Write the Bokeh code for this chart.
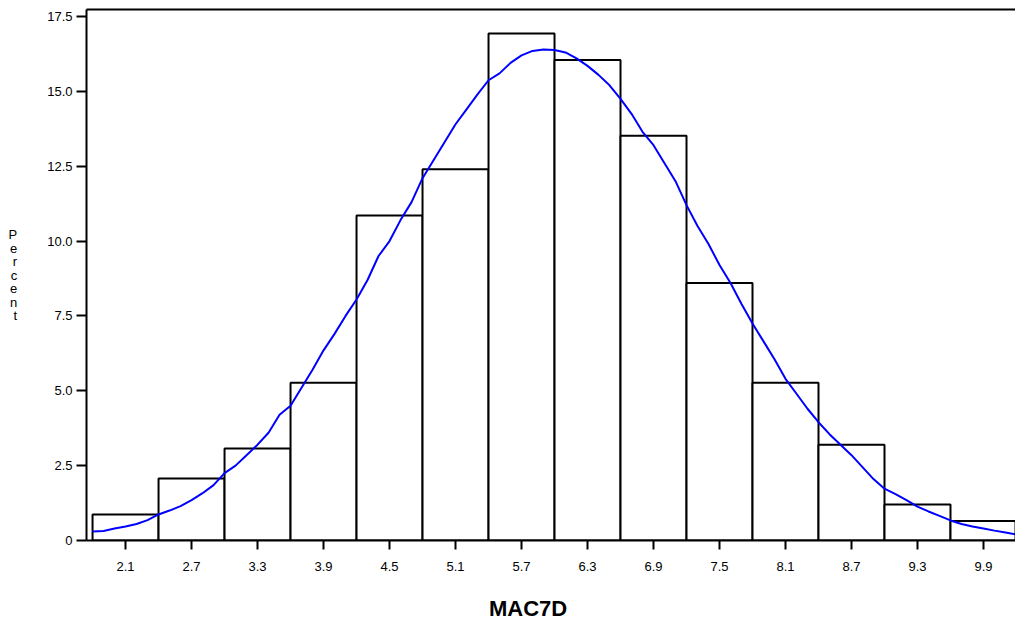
from bokeh.plotting import figure
from bokeh.models import LinearAxis, FixedTicker, Range1d
from bokeh.embed import file_html
from bokeh.resources import INLINE

# ---- data ----
bin_centers = [2.1, 2.7, 3.3, 3.9, 4.5, 5.1, 5.7, 6.3, 6.9, 7.5, 8.1, 8.7, 9.3, 9.9]
bin_percent = [0.87, 2.07, 3.07, 5.27, 10.85, 12.4, 16.93, 16.05, 13.52, 8.6, 5.27, 3.2, 1.2, 0.65]
bin_width = 0.6

curve_x = [1.8, 1.9, 2.0, 2.1, 2.2, 2.3, 2.4, 2.5, 2.6, 2.7, 2.8, 2.9, 3.0, 3.1, 3.2,
           3.3, 3.4, 3.5, 3.6, 3.7, 3.8, 3.9, 4.0, 4.1, 4.2, 4.3, 4.4, 4.5, 4.6, 4.7,
           4.8, 4.9, 5.0, 5.1, 5.2, 5.3, 5.4, 5.5, 5.6, 5.7, 5.8, 5.9, 6.0, 6.1, 6.2,
           6.3, 6.4, 6.5, 6.6, 6.7, 6.8, 6.9, 7.0, 7.1, 7.2, 7.3, 7.4, 7.5, 7.6, 7.7,
           7.8, 7.9, 8.0, 8.1, 8.2, 8.3, 8.4, 8.5, 8.6, 8.7, 8.8, 8.9, 9.0, 9.1, 9.2,
           9.3, 9.4, 9.5, 9.6, 9.7, 9.8, 9.9, 10.0, 10.1, 10.2]
curve_y = [0.30, 0.32, 0.40, 0.47, 0.55, 0.68, 0.87, 1.00, 1.15, 1.35, 1.58, 1.85, 2.25, 2.50, 2.85,
           3.20, 3.60, 4.20, 4.50, 5.10, 5.70, 6.35, 6.90, 7.50, 8.05, 8.70, 9.50, 10.00, 10.70, 11.30,
           12.10, 12.70, 13.30, 13.90, 14.40, 14.90, 15.37, 15.60, 15.95, 16.20, 16.35, 16.40, 16.38, 16.30, 16.10,
           15.85, 15.55, 15.20, 14.75, 14.25, 13.65, 13.20, 12.60, 12.00, 11.20, 10.50, 9.90, 9.20, 8.60, 7.90,
           7.25, 6.65, 6.05, 5.40, 4.90, 4.40, 3.95, 3.55, 3.20, 2.85, 2.45, 2.05, 1.73, 1.55, 1.35,
           1.13, 0.97, 0.82, 0.67, 0.55, 0.47, 0.40, 0.33, 0.27, 0.20]

y_ticks = [0, 2.5, 5.0, 7.5, 10.0, 12.5, 15.0, 17.5]
y_tick_labels = ["0", "2.5", "5.0", "7.5", "10.0", "12.5", "15.0", "17.5"]
x_ticks = bin_centers
x_tick_labels = ["2.1", "2.7", "3.3", "3.9", "4.5", "5.1", "5.7", "6.3", "6.9", "7.5", "8.1", "8.7", "9.3", "9.9"]
x_title = "MAC7D"
y_title = "Percent"

FONT = "Liberation Sans"
X_TITLE_POS = 5.76  # horizontal anchor of the x title, in data units

p = figure(width=1015, height=623, output_backend="svg", toolbar_location=None,
           x_range=Range1d(1.745, 10.191), y_range=Range1d(0, 17.733),
           x_axis_type=None, y_axis_type=None,
           min_border_left=86, min_border_right=0, min_border_top=9, min_border_bottom=82)
p.outline_line_color = None
p.xgrid.visible = False
p.ygrid.visible = False
p.background_fill_color = "white"
p.border_fill_color = "white"

# axes
ax_left = LinearAxis(ticker=FixedTicker(ticks=y_ticks))
ax_left.major_label_overrides = {t: l for t, l in zip(y_ticks, y_tick_labels)}
ax_left.axis_line_width = 2
ax_left.major_tick_line_width = 2
ax_left.major_tick_out = 10
ax_left.major_tick_in = 0
ax_left.minor_tick_line_color = None
ax_left.major_label_standoff = 4
ax_left.major_label_text_font = FONT
ax_left.major_label_text_font_size = "13px"
ax_left.major_label_text_color = "black"
ax_left.axis_label = "\n".join(y_title)
ax_left.axis_label_orientation = "horizontal"
ax_left.axis_label_text_font = FONT
ax_left.axis_label_text_font_size = "13px"
ax_left.axis_label_text_font_style = "normal"
ax_left.axis_label_text_color = "black"
ax_left.axis_label_text_line_height = 0.9
ax_left.axis_label_text_align = "center"
ax_left.axis_label_standoff = 27
p.add_layout(ax_left, "left")

ax_bot = LinearAxis(ticker=FixedTicker(ticks=x_ticks))
ax_bot.major_label_overrides = {t: l for t, l in zip(x_ticks, x_tick_labels)}
ax_bot.axis_line_width = 2
ax_bot.major_tick_line_width = 2
ax_bot.major_tick_out = 9
ax_bot.major_tick_in = 0
ax_bot.minor_tick_line_color = None
ax_bot.major_label_standoff = 12
ax_bot.major_label_text_font = FONT
ax_bot.major_label_text_font_size = "13px"
ax_bot.major_label_text_color = "black"
p.add_layout(ax_bot, "below")

# x title, drawn as the single label of a bare axis below the main one
ax_title = LinearAxis(ticker=FixedTicker(ticks=[X_TITLE_POS]))
ax_title.major_label_overrides = {X_TITLE_POS: x_title}
ax_title.axis_line_color = None
ax_title.major_tick_line_color = None
ax_title.minor_tick_line_color = None
ax_title.major_tick_out = 0
ax_title.major_tick_in = 0
ax_title.major_label_standoff = 22
ax_title.major_label_text_font = FONT
ax_title.major_label_text_font_style = "bold"
ax_title.major_label_text_font_size = "22px"
ax_title.major_label_text_color = "black"
p.add_layout(ax_title, "below")

ax_top = LinearAxis(ticker=FixedTicker(ticks=[]))
ax_top.axis_line_width = 2
ax_top.major_tick_line_color = None
ax_top.minor_tick_line_color = None
ax_top.major_label_text_font_size = "0px"
p.add_layout(ax_top, "above")

# bars
p.vbar(x=bin_centers, width=bin_width, bottom=0, top=bin_percent,
       fill_color="white", line_color="black", line_width=2)

# density curve
p.line(curve_x, curve_y, line_color="#0000ff", line_width=2)

open("out.html", "w").write(file_html(p, INLINE))
